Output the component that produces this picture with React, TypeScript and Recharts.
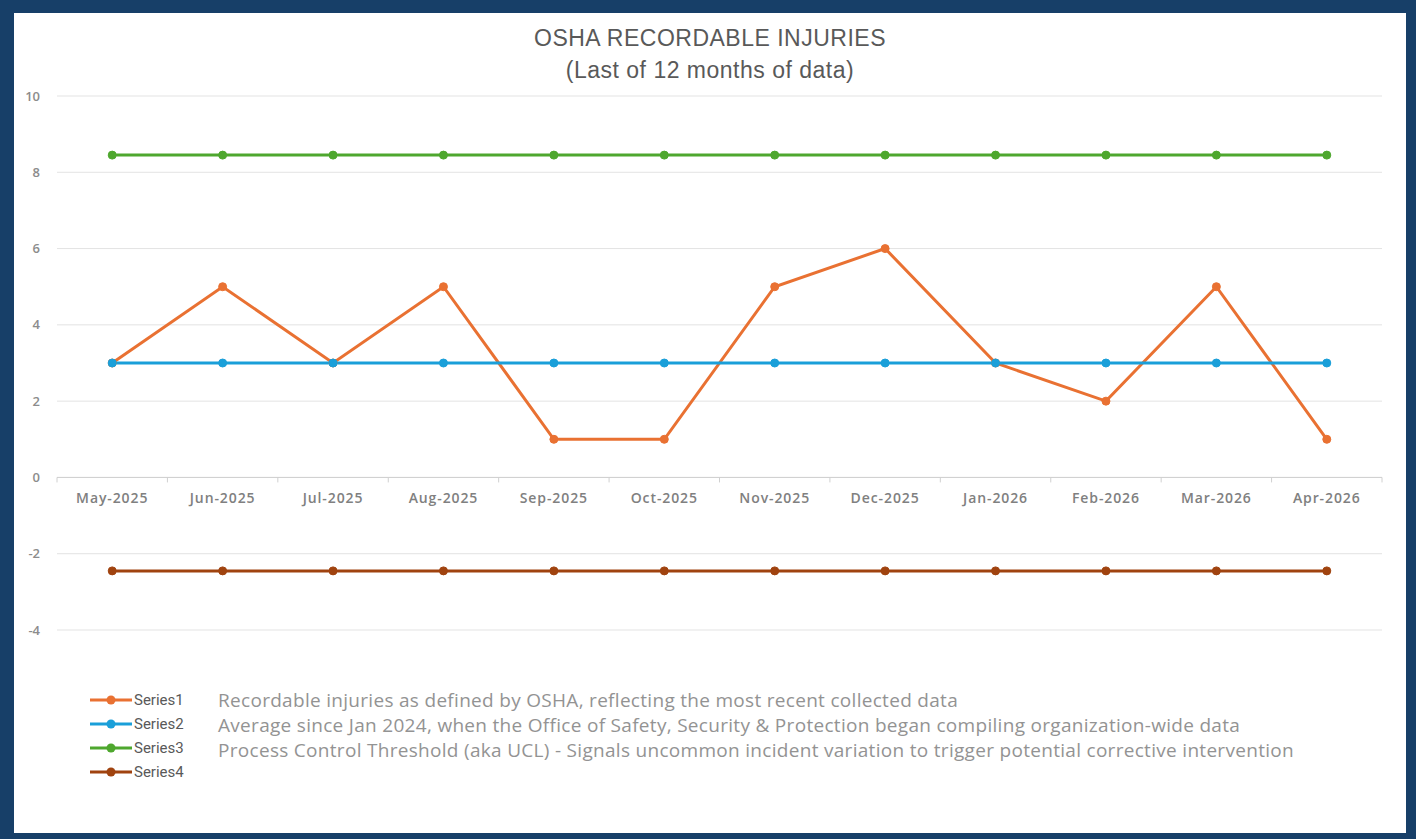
import {
  LineChart,
  Line,
  XAxis,
  YAxis,
  CartesianGrid,
  ReferenceLine,
  ReferenceDot,
  Legend,
} from "recharts";

const months = [
  "May-2025",
  "Jun-2025",
  "Jul-2025",
  "Aug-2025",
  "Sep-2025",
  "Oct-2025",
  "Nov-2025",
  "Dec-2025",
  "Jan-2026",
  "Feb-2026",
  "Mar-2026",
  "Apr-2026",
];
const series1 = [3, 5, 3, 5, 1, 1, 5, 6, 3, 2, 5, 1];
const series2 = [3, 3, 3, 3, 3, 3, 3, 3, 3, 3, 3, 3];
const series3 = [8.45, 8.45, 8.45, 8.45, 8.45, 8.45, 8.45, 8.45, 8.45, 8.45, 8.45, 8.45];
const series4 = [-2.45, -2.45, -2.45, -2.45, -2.45, -2.45, -2.45, -2.45, -2.45, -2.45, -2.45, -2.45];
const yTicks = [-4, -2, 0, 2, 4, 6, 8, 10];
const descriptions = [
  "Recordable injuries as defined by OSHA, reflecting the most recent collected data",
  "Average since Jan 2024, when the Office of Safety, Security & Protection began compiling organization-wide data",
  "Process Control Threshold (aka UCL) - Signals uncommon incident variation to trigger potential corrective intervention",
];

const seriesDefs = [
  { key: "s1", name: "Series1", color: "#E97132" },
  { key: "s2", name: "Series2", color: "#1A9FD9" },
  { key: "s3", name: "Series3", color: "#4EA72E" },
  { key: "s4", name: "Series4", color: "#A0430F" },
];

const data = months.map((m, i) => ({
  month: m,
  s1: series1[i],
  s2: series2[i],
  s3: series3[i],
  s4: series4[i],
}));

const W = 1416;
const H = 839;
const margin = { top: 96, right: 34, left: 12, bottom: 55 };
const yAxisWidth = 45;
const plotWidth = W - margin.left - margin.right - yAxisWidth;
const halfBand = plotWidth / months.length / 2;

const MonthMark = ({ cx, cy, name, last }: any) => (
  <g>
    <line x1={cx - halfBand} x2={cx - halfBand} y1={cy} y2={cy + 5} stroke="#d0d0d0" />
    {last && <line x1={cx + halfBand} x2={cx + halfBand} y1={cy} y2={cy + 5} stroke="#d0d0d0" />}
    <text
      x={cx}
      y={cy + 20}
      textAnchor="middle"
      dominantBaseline="central"
      fontFamily="'Open Sans', sans-serif"
      fontWeight={600}
      fontSize={14}
      letterSpacing={0.9}
      fill="#808080"
    >
      {name}
    </text>
  </g>
);

const LegendBox = ({ payload }: any) => (
  <div style={{ position: "relative", height: 154, width: W }}>
    {(payload || []).map((entry: any, i: number) => (
      <div
        key={entry.value}
        style={{
          position: "absolute",
          left: 90,
          top: 60 + i * 24,
          height: 20,
          display: "flex",
          alignItems: "center",
        }}
      >
        <svg width={42} height={12}>
          <line x1={0} x2={42} y1={6} y2={6} stroke={entry.color} strokeWidth={3} />
          <circle cx={21} cy={6} r={4.5} fill={entry.color} />
        </svg>
        <span
          style={{
            fontFamily: "Roboto, sans-serif",
            fontSize: 15,
            color: "#595959",
            marginLeft: 2,
          }}
        >
          {entry.value}
        </span>
      </div>
    ))}
    {descriptions.map((d, i) => (
      <div
        key={d}
        style={{
          position: "absolute",
          left: 218,
          top: 58 + i * 25,
          height: 24,
          lineHeight: "24px",
          fontFamily: "'Open Sans', sans-serif",
          fontSize: 19,
          letterSpacing: 0.3,
          color: "#939393",
          whiteSpace: "nowrap",
        }}
      >
        {d}
      </div>
    ))}
  </div>
);

export default function App() {
  return (
    <div style={{ position: "relative", width: W, height: H, background: "#173F68" }}>
      <style>{`body{margin:0}`}</style>
      <div
        style={{
          position: "absolute",
          left: 14,
          top: 13,
          width: 1392,
          height: 820,
          background: "#ffffff",
        }}
      />
      <div
        style={{
          position: "absolute",
          left: 0,
          top: 22,
          width: 1420,
          textAlign: "center",
          fontFamily: "'Liberation Sans', Arial, sans-serif",
          fontSize: 23,
          letterSpacing: 0.5,
          lineHeight: "32px",
          color: "#595959",
        }}
      >
        <div>OSHA RECORDABLE INJURIES</div>
        <div>(Last of 12 months of data)</div>
      </div>
      <div style={{ position: "absolute", left: 0, top: 0 }}>
        <LineChart width={W} height={H} data={data} margin={margin}>
          <CartesianGrid vertical={false} stroke="#e3e3e3" />
          <XAxis dataKey="month" hide padding={{ left: halfBand, right: halfBand }} />
          <YAxis
            width={yAxisWidth}
            domain={[-4, 10]}
            ticks={yTicks}
            axisLine={false}
            tickLine={false}
            tickSize={0}
            tickMargin={17}
            tick={{ fontFamily: "'Open Sans', sans-serif", fontSize: 13, fontWeight: 600, fill: "#8c8c8c" }}
          />
          <ReferenceLine y={0} stroke="#d0d0d0" />
          {months.map((m, i) => (
            <ReferenceDot
              key={m}
              x={m}
              y={0}
              r={0}
              shape={(p: any) => <MonthMark {...p} name={m} last={i === months.length - 1} />}
            />
          ))}
          <Legend
            verticalAlign="bottom"
            align="left"
            wrapperStyle={{ left: 0, width: W }}
            content={<LegendBox />}
          />
          {seriesDefs.map((s) => (
            <Line
              key={s.key}
              type="linear"
              dataKey={s.key}
              name={s.name}
              stroke={s.color}
              strokeWidth={3}
              dot={{ r: 4, fill: s.color, stroke: s.color, strokeWidth: 1 }}
              activeDot={false}
              isAnimationActive={false}
            />
          ))}
        </LineChart>
      </div>
    </div>
  );
}
